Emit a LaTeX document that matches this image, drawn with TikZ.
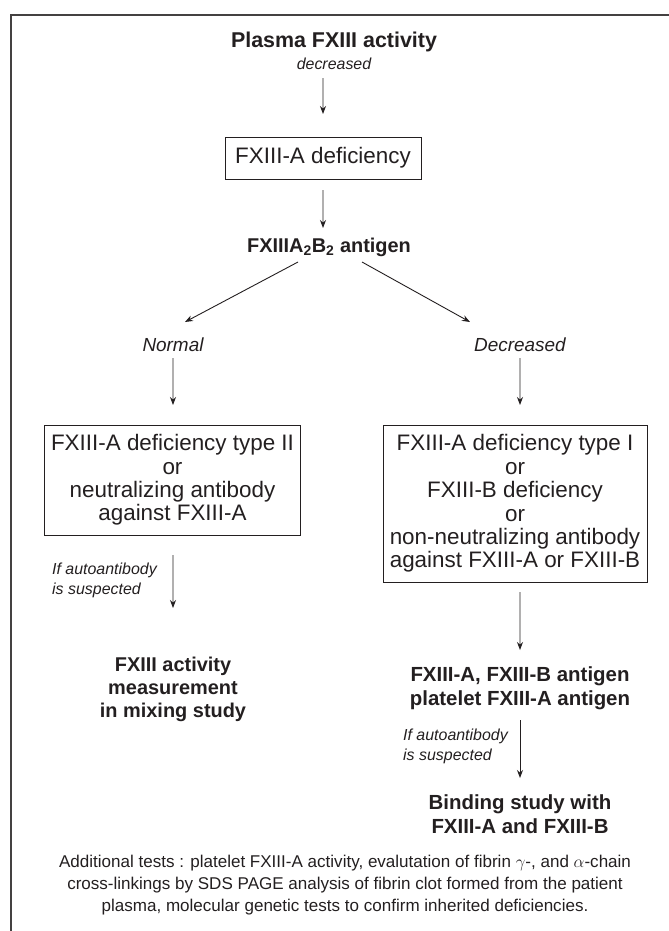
\documentclass[tikz,border=0pt]{standalone}
\usepackage{fontspec}
\setmainfont{Liberation Sans}
\usetikzlibrary{arrows.meta}
\definecolor{ink}{HTML}{231F20}
\tikzset{
  every node/.style={text=ink, inner sep=0pt, align=center},
  arr/.style={draw=ink, line width=0.9bp, -{Stealth[length=8bp,width=6bp]}},
  flowbox/.style={draw=ink, line width=1bp, font=\fontsize{22.5}{23.5}\selectfont},
  headtxt/.style={font=\bfseries\fontsize{21.5}{26}\selectfont},
  boldtxt/.style={font=\bfseries\fontsize{20.5}{24}\selectfont},
  ittxt/.style={font=\itshape\fontsize{19}{22}\selectfont},
  smallit/.style={font=\itshape\fontsize{16}{20}\selectfont, align=left},
  foottxt/.style={font=\fontsize{17.1}{22}\selectfont},
}
\begin{document}
\begin{tikzpicture}[x=1bp,y=-1bp]
\useasboundingbox (0,0) rectangle (669,931);
% frame (only top and left edges visible)
\draw[line width=2bp, draw=ink!85] (11,931) -- (11,15) -- (669,15);

\node[headtxt] (title) at (334,42) {Plasma FXIII activity};
\node[font=\itshape\fontsize{16}{19}\selectfont] (dec) at (334,64) {decreased};
\node[flowbox, minimum width=196bp, minimum height=42bp] (b1) at (323,158) {FXIII-A deficiency};
\node[font=\bfseries\fontsize{20}{24}\selectfont] (ag) at (329,247) {FXIIIA\textsubscript{2}B\textsubscript{2} antigen};
\node[ittxt] (nl) at (173,345) {Normal};
\node[ittxt] (dc) at (520,345) {Decreased};
\node[flowbox, minimum width=255bp, minimum height=110bp] (lb) at (172.5,480)
  {FXIII-A deficiency type II\\or\\neutralizing antibody\\against FXIII-A};
\node[flowbox, minimum width=264bp, minimum height=157bp] (rb) at (515,503.5)
  {FXIII-A deficiency type I\\or\\FXIII-B deficiency\\or\\non-neutralizing antibody\\against FXIII-A or FXIII-B};
\node[smallit, anchor=west] (lab1) at (52,580) {If autoantibody\\is suspected};
\node[boldtxt, font=\bfseries\fontsize{20}{23}\selectfont] (lr) at (173,689) {FXIII activity\\measurement\\in mixing study};
\node[boldtxt] (rr) at (520,688) {FXIII-A, FXIII-B antigen\\platelet FXIII-A antigen};
\node[smallit, anchor=west] (lab2) at (403,746) {If autoantibody\\is suspected};
\node[boldtxt] (br) at (520,814) {Binding study with\\FXIII-A and FXIII-B};
\node[foottxt] (add) at (345,885) {Additional tests : platelet FXIII-A activity, evalutation of fibrin $\gamma$-, and $\alpha$-chain\\cross-linkings by SDS PAGE analysis of fibrin clot formed from the patient\\plasma, molecular genetic tests to confirm inherited deficiencies.};

% arrows
\draw[arr] ([xshift=-11bp,yshift=-14bp]dec.center) -- ([yshift=44bp]b1.center);
\draw[arr] ([yshift=-32bp]b1.center) -- ([xshift=-6bp,yshift=19bp]ag.center);
\draw[arr] ([xshift=-31bp,yshift=-15bp]ag.center) -- ([xshift=12bp,yshift=23bp]nl.center);
\draw[arr] ([xshift=33bp,yshift=-15bp]ag.center) -- ([xshift=-50bp,yshift=23bp]dc.center);
\draw[arr] ([yshift=-13bp]nl.center) -- ([xshift=0.5bp,yshift=75bp]lb.center);
\draw[arr] ([yshift=-13bp]dc.center) -- ([xshift=5bp,yshift=98.5bp]rb.center);
\draw[arr] ([xshift=0.5bp,yshift=-75bp]lb.center) -- ([yshift=81bp]lr.center);
\draw[arr] ([xshift=5bp,yshift=-88.5bp]rb.center) -- ([yshift=38bp]rr.center);
\draw[arr] ([yshift=-32bp]rr.center) -- ([yshift=36bp]br.center);
\end{tikzpicture}
\end{document}
